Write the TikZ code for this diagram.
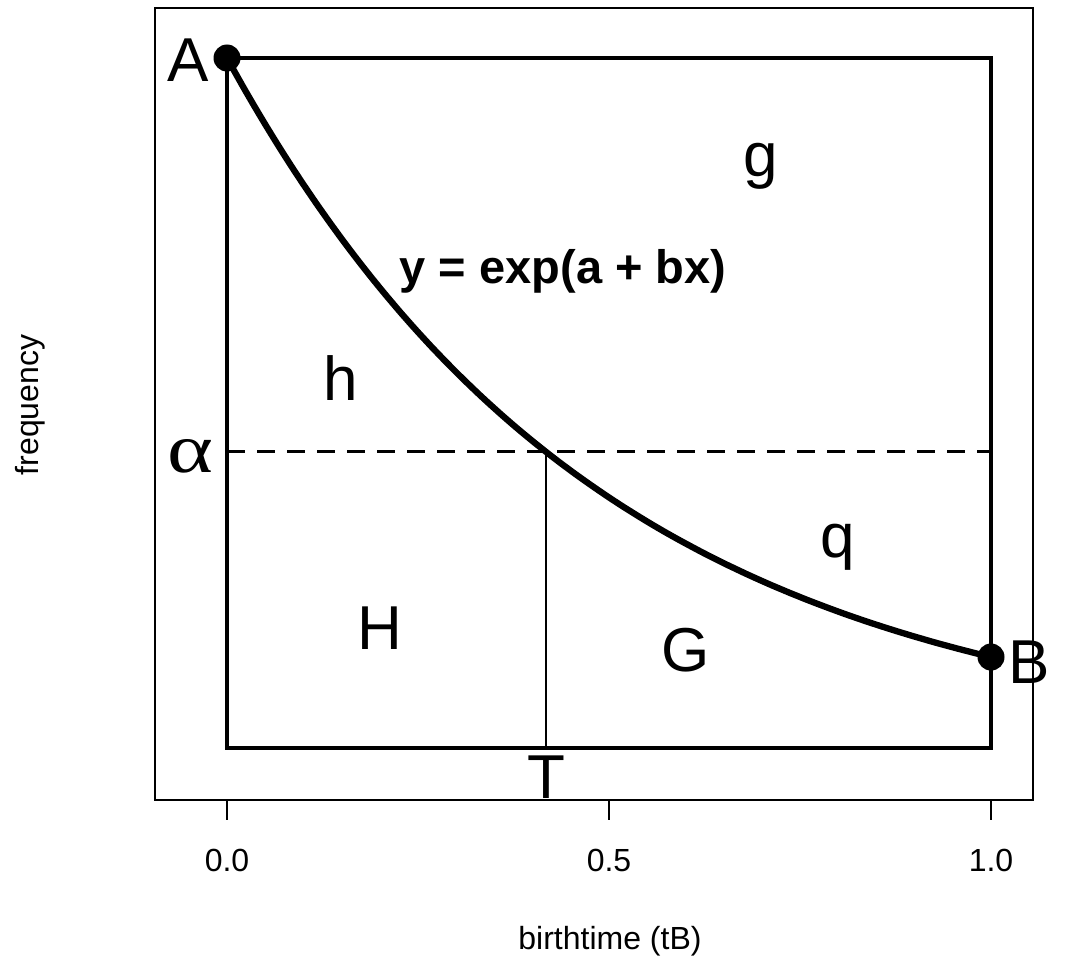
\documentclass[tikz,border=0pt]{standalone}
\usepackage{fontspec}
\setmainfont{Liberation Sans}
\newfontfamily\serifalpha{Liberation Serif}
\begin{document}
\begin{tikzpicture}[x=1pt,y=-1pt,
  big/.style={font=\fontsize{62}{62}\selectfont, inner sep=0pt, anchor=center},
  axlab/.style={font=\fontsize{32}{32}\selectfont, inner sep=0pt, anchor=center},
  dot/.style={circle, fill=black, minimum size=27pt, inner sep=0pt},
  frame/.style={line width=1.6pt},
  box/.style={line width=3.2pt},
  curve/.style={line width=6.3pt},
  thinline/.style={line width=1.4pt},
  tick/.style={line width=1.4pt}]
\useasboundingbox (0,0) rectangle (1068,958);
% outer frame
\draw[frame] (155,8) rectangle (1033,800);
% ticks
\foreach \px/\lab [count=\i] in {227/0.0, 609/0.5, 991/1.0}{
  \draw[tick] (\px,800) -- (\px,820);
  \node[axlab] (tick\i) at (\px,860) {\lab};
}
\node[axlab] (xlab) at (610,941) {birthtime (tB)};
\node[axlab, rotate=90] (ylab) at (30,405) {frequency};
% inner rectangle
\coordinate (tl) at (227,58);
\coordinate (tr) at (991,58);
\coordinate (br) at (991,748);
\coordinate (bl) at (227,748);
\draw[box, line join=miter] (tl) -- (tr) -- (br) -- (bl) -- cycle;
% alpha dashed line
\coordinate (al) at (227,451);
\coordinate (ar) at (991,451);
\draw[line width=3pt, dash pattern=on 18pt off 12pt] (al) -- (ar);
% T line
\coordinate (Ttop) at (546,451);
\coordinate (Tbot) at (546,748);
\draw[thinline] (Ttop) -- (Tbot);
% curve
\draw[curve, line cap=round] plot[domain=0:1, samples=120, smooth] ({227+764*\x},{748-690*exp(-2.026*\x)});
% dots
\node[dot] (A) at (227,58) {};
\node[dot] (B) at (991,657) {};
% labels
\node[big] (lA) at (188,60) {A};
\node[big] (lB) at (1029,662) {B};
\node[big] (lT) at (546,777) {T};
\node[big, font=\serifalpha\fontsize{70}{70}\selectfont, xscale=1.25] (lal) at (190,456) {α};
\node[big] (lg) at (761,166) {g};
\node[big] (lh) at (341,378) {h};
\node[big] (lq) at (838,547) {q};
\node[big] (lH) at (380,628) {H};
\node[big] (lG) at (686,650) {G};
\node[inner sep=0pt, font=\bfseries\fontsize{47}{47}\selectfont] (form) at (563,271) {y = exp(a + bx)};
\end{tikzpicture}
\end{document}
